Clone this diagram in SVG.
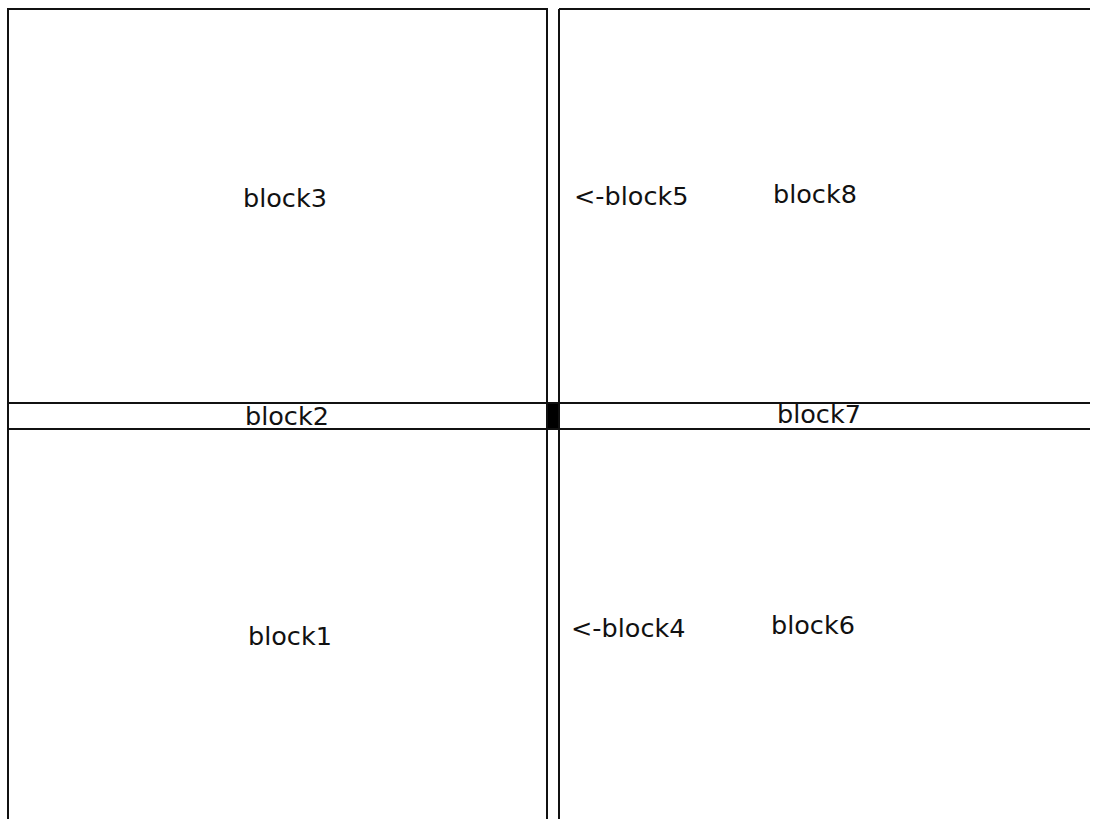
<svg xmlns="http://www.w3.org/2000/svg" width="1094" height="819" viewBox="0 0 1094 819">
<style>
.b{fill:none;stroke:#111;stroke-width:2}
.t{font-family:"DejaVu Sans",sans-serif;font-size:25.5px;fill:#111}
</style>
<rect width="1094" height="819" fill="#fff"/>
<g id="block3"><path class="b" d="M8,830 V9 H547 V403"/><text class="t" x="243" y="207">block3</text></g>
<g id="block2"><path class="b" d="M8,403 H547 M8,429 H547"/><text class="t" x="245" y="425">block2</text></g>
<g id="block1"><path class="b" d="M8,429 V830"/><text class="t" x="248" y="645">block1</text></g>
<g id="block5"><path class="b" d="M547,9 V403 M559,9 V403"/><text class="t" x="574" y="205">&lt;-block5</text></g>
<g id="center"><rect x="547" y="403" width="12" height="26" fill="#000" stroke="#111" stroke-width="2"/></g>
<g id="block4"><path class="b" d="M547,429 V830 M559,429 V830"/><text class="t" x="571" y="637">&lt;-block4</text></g>
<g id="block8"><path class="b" d="M559,9 H1090"/><text class="t" x="773" y="203">block8</text></g>
<g id="block7"><path class="b" d="M559,403 H1090 M559,429 H1090"/><text class="t" x="777" y="423">block7</text></g>
<g id="block6"><text class="t" x="771" y="634">block6</text></g>
<g id="connectors"/>
</svg>
